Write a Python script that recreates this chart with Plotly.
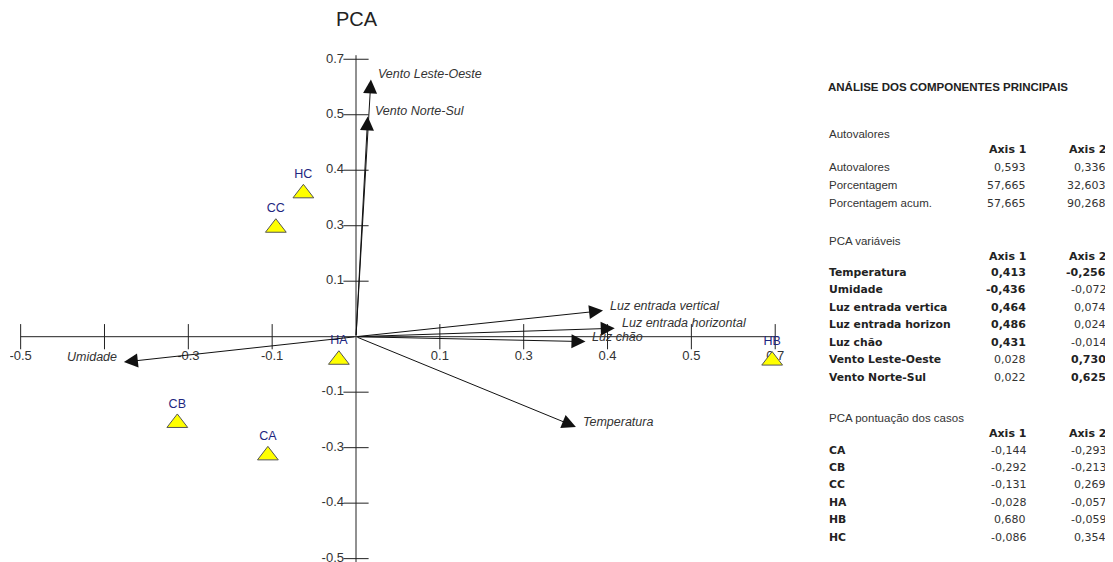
import plotly.graph_objects as go

# PCA pontuação dos casos
cases = ['CA', 'CB', 'CC', 'HA', 'HB', 'HC']
score_ax1 = [-0.144, -0.292, -0.131, -0.028, 0.680, -0.086]
score_ax2 = [-0.293, -0.213, 0.269, -0.057, -0.059, 0.354]

# PCA variáveis (loadings)
variables = ['Temperatura', 'Umidade', 'Luz entrada vertical', 'Luz entrada horizontal',
             'Luz chão', 'Vento Leste-Oeste', 'Vento Norte-Sul']
variables_table = ['Temperatura', 'Umidade', 'Luz entrada vertica', 'Luz entrada horizon',
                   'Luz chão', 'Vento Leste-Oeste', 'Vento Norte-Sul']
load_ax1 = [0.413, -0.436, 0.464, 0.486, 0.431, 0.028, 0.022]
load_ax2 = [-0.256, -0.072, 0.074, 0.024, -0.014, 0.730, 0.625]

# Autovalores
eig_rows = ['Autovalores', 'Porcentagem', 'Porcentagem acum.']
eig_ax1 = [0.593, 57.665, 57.665]
eig_ax2 = [0.336, 32.603, 90.268]

# axis ticks (the program puts a tick every 0.137 and rounds the labels;
# the -0.4 label on x is hidden behind "Umidade")
tick_step = 0.137
tick_idx = [-4, -3, -2, -1, 1, 2, 3, 4, 5]
x_tick_text = ['-0.5', '', '-0.3', '-0.1', '0.1', '0.3', '0.4', '0.5', '0.7']
y_tick_text = ['-0.5', '-0.4', '-0.3', '-0.1', '0.1', '0.3', '0.4', '0.5', '0.7']

arrow_scale = 0.87

# page body has an 8px margin, so the figure sits at (8, 8)
OFF = 8
W, H = 1105, 554
ML, MT, MB = 2, 37, 0
plot_w = 775
MR = W - ML - plot_w
plot_h = H - MT - MB
x_range = [-0.5654, 0.701]
y_range = [-0.5563, 0.7202]
ppu_x = plot_w / (x_range[1] - x_range[0])
ppu_y = plot_h / (y_range[1] - y_range[0])

AXC = '#222222'
TXT = '#333333'
ARIAL = 'Liberation Sans, Arial, sans-serif'
TAHOMA = 'DejaVu Sans, Verdana, sans-serif'

fig = go.Figure()

ticks = [i * tick_step for i in tick_idx]
lo, hi = min(ticks), max(ticks)

# axes lines
fig.add_trace(go.Scatter(x=[lo, hi + 0.005], y=[0, 0], mode='lines',
                         line=dict(color=AXC, width=1), hoverinfo='skip'))
fig.add_trace(go.Scatter(x=[0, 0], y=[lo - 0.01, hi + 0.01], mode='lines',
                         line=dict(color=AXC, width=1), hoverinfo='skip'))
# tick marks crossing the axes
fig.add_trace(go.Scatter(x=ticks, y=[0] * len(ticks), mode='markers',
                         marker=dict(symbol='line-ns', size=18, line=dict(width=1, color=AXC)),
                         hoverinfo='skip'))
fig.add_trace(go.Scatter(x=[0] * len(ticks), y=ticks, mode='markers',
                         marker=dict(symbol='line-ew', size=18, line=dict(width=1, color=AXC)),
                         hoverinfo='skip'))
# tick labels
fig.add_trace(go.Scatter(x=ticks, y=[-20 / ppu_y] * len(ticks), mode='text',
                         text=x_tick_text, textposition='middle center',
                         textfont=dict(family=ARIAL, size=13, color=TXT), hoverinfo='skip'))
fig.add_trace(go.Scatter(x=[-12 / ppu_x] * len(ticks), y=ticks, mode='text',
                         text=y_tick_text, textposition='middle left',
                         textfont=dict(family=ARIAL, size=13, color=TXT), hoverinfo='skip'))

# case scores
fig.add_trace(go.Scatter(
    x=score_ax1, y=score_ax2, mode='markers+text', text=cases,
    textposition='top center',
    textfont=dict(family=ARIAL, size=12.5, color='#1e2680'),
    marker=dict(symbol='triangle-up', size=18, color='#ffff00',
                line=dict(width=1, color='#555555')),
    hoverinfo='skip'))

# loading arrows
for name, a1, a2 in zip(variables, load_ax1, load_ax2):
    tx, ty = a1 * arrow_scale, a2 * arrow_scale
    fig.add_annotation(x=tx, y=ty, ax=0, ay=0, axref='x', ayref='y', xref='x', yref='y',
                       text='', showarrow=True, arrowhead=2, arrowsize=2.8,
                       arrowwidth=1, arrowcolor='#111111', standoff=0)
    left = tx < 0
    fig.add_annotation(x=tx, y=ty, xref='x', yref='y', text='<i>%s</i>' % name,
                       showarrow=False, xanchor='right' if left else 'left',
                       xshift=-5 if left else 5, yshift=5,
                       font=dict(family=ARIAL, size=12.5, color=TXT))


def px(x):
    return (x - OFF - ML) / plot_w


def py(y):
    return (H - MB - (y - OFF)) / plot_h


def put(x, y, text, anchor='left', family=TAHOMA, size=11, color='#222222'):
    fig.add_annotation(x=px(x), y=py(y), xref='paper', yref='paper', text=text,
                       showarrow=False, xanchor=anchor, yanchor='middle',
                       font=dict(family=family, size=size, color=color))


def fmt(v):
    return ('%.3f' % v).replace('.', ',')


put(357, 19, 'PCA', anchor='center', family=ARIAL, size=20)

LX, C1, C2 = 827, 1028, 1108

put(826, 87, '<b>ANÁLISE DOS COMPONENTES PRINCIPAIS</b>', family=ARIAL, size=11.5)

put(LX, 134, 'Autovalores', family=ARIAL, size=11.5, color=TXT)
put(C1, 149, '<b>Axis 1</b>', anchor='right')
put(C2, 149, '<b>Axis 2</b>', anchor='right')
for i, (lab, v1, v2) in enumerate(zip(eig_rows, eig_ax1, eig_ax2)):
    y = 167 + i * 18
    put(LX, y, lab, family=ARIAL, size=11.5, color=TXT)
    put(C1, y, fmt(v1), anchor='right', color=TXT)
    put(C2, y, fmt(v2), anchor='right', color=TXT)

put(LX, 241, 'PCA variáveis', family=ARIAL, size=11.5, color=TXT)
put(C1, 256, '<b>Axis 1</b>', anchor='right')
put(C2, 256, '<b>Axis 2</b>', anchor='right')
for i, (lab, v1, v2) in enumerate(zip(variables_table, load_ax1, load_ax2)):
    y = 272 + i * 17.6
    put(LX, y, '<b>%s</b>' % lab, size=10.8)
    t1 = '<b>%s</b>' % fmt(v1) if abs(v1) > 0.25 else fmt(v1)
    t2 = '<b>%s</b>' % fmt(v2) if abs(v2) > 0.25 else fmt(v2)
    put(C1, y, t1, anchor='right', color='#222222' if abs(v1) > 0.25 else TXT)
    put(C2, y, t2, anchor='right', color='#222222' if abs(v2) > 0.25 else TXT)

put(LX, 418, 'PCA pontuação dos casos', family=ARIAL, size=11.5, color=TXT)
put(C1, 433, '<b>Axis 1</b>', anchor='right')
put(C2, 433, '<b>Axis 2</b>', anchor='right')
for i, (lab, v1, v2) in enumerate(zip(cases, score_ax1, score_ax2)):
    y = 450 + i * 17.4
    put(LX, y, '<b>%s</b>' % lab, size=10.8)
    put(C1, y, fmt(v1), anchor='right', color=TXT)
    put(C2, y, fmt(v2), anchor='right', color=TXT)

fig.update_layout(
    width=W, height=H,
    margin=dict(l=ML, r=MR, t=MT, b=MB),
    paper_bgcolor='white', plot_bgcolor='white',
    showlegend=False,
    xaxis=dict(range=x_range, visible=False, fixedrange=True),
    yaxis=dict(range=y_range, visible=False, fixedrange=True),
)

fig.write_html("out.html")
